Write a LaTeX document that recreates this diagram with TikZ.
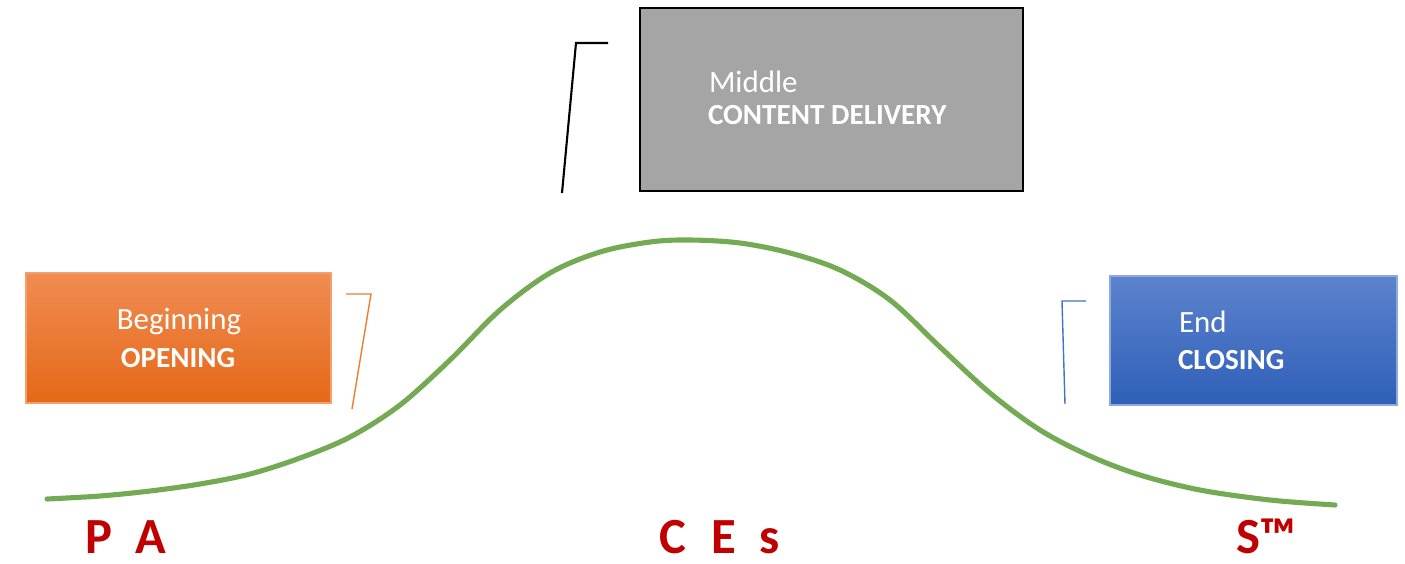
\documentclass[tikz,border=0pt]{standalone}
\usepackage{fontspec}
\setmainfont{Carlito}
\usetikzlibrary{positioning}
\definecolor{curvegreen}{RGB}{116,170,84}
\definecolor{markred}{RGB}{192,0,0}
\definecolor{boxgray}{RGB}{165,165,165}
\definecolor{orangetop}{RGB}{240,140,82}
\definecolor{orangebot}{RGB}{229,104,24}
\definecolor{orangeedge}{RGB}{244,160,110}
\definecolor{orangeline}{RGB}{237,125,49}
\definecolor{bluetop}{RGB}{92,131,205}
\definecolor{bluebot}{RGB}{47,95,184}
\definecolor{blueedge}{RGB}{142,169,219}
\definecolor{blueline}{RGB}{68,114,196}

\begin{document}
\begin{tikzpicture}[x=0.01cm, y=-0.01cm,
  inner sep=0pt, outer sep=0pt,%
  stage box/.style={rectangle,minimum width=#1},
  stage title/.style={text=white,font=\fontsize{8.8}{10}\selectfont},
  stage name/.style={text=white,font=\fontsize{8.3}{10}\selectfont\bfseries},
  bracket/.style={color=#1,line width=0.4pt},
  bell/.style={curvegreen,line width=1.45pt,line cap=round},
  mark label/.style={text=markred,font=\fontsize{14.4}{16}\selectfont\bfseries}]

\useasboundingbox (0,0) rectangle (1405,563);

% the three stage boxes
\node[stage box=3.05cm,minimum height=1.30cm,draw=orangeedge,
  top color=orangetop,bottom color=orangebot] (opening) at (178.5,338) {};
\node[stage box=3.83cm,minimum height=1.83cm,draw=black,line width=0.6pt,fill=boxgray]
  (delivery) at (831.5,99.5) {};
\node[stage box=2.87cm,minimum height=1.29cm,draw=blueedge,
  top color=bluetop,bottom color=bluebot] (closing) at (1253.5,340.5) {};

\node[stage title,anchor=base] (beginning) at (179,329) {Beginning};
\node[stage name,anchor=base] (openname) at (178,367) {OPENING};
\node[stage title,anchor=base west] (middle) at (709,92) {Middle};
\node[stage name,anchor=base west] (delname) at (708,124) {CONTENT DELIVERY};
\node[stage title,anchor=base west] (end) at (1179,332) {End};
\node[stage name,anchor=base west] (closename) at (1178,369) {CLOSING};

% brackets
\coordinate (ob1) at (346,294);
\coordinate (ob2) at (371,294);
\coordinate (ob3) at (352,409);
\draw[bracket=orangeline] (ob1) -- (ob2) -- (ob3);

\coordinate (db1) at (608,43);
\coordinate (db2) at (576,43);
\coordinate (db3) at (562,193);
\draw[bracket=black,line width=0.6pt] (db1) -- (db2) -- (db3);

\coordinate (cb1) at (1086,301);
\coordinate (cb2) at (1062,301);
\coordinate (cb3) at (1065,404);
\draw[bracket=blueline] (cb1) -- (cb2) -- (cb3);

% the bell curve
\draw[bell] plot[smooth,tension=0.55] coordinates {(47,499) (100,496) (150,491) (200,484)
  (250,474) (300,458) (350,437) (400,405) (450,360) (500,310) (550,273) (600,252)
  (650,242) (690,240) (740,243) (790,253) (840,270) (890,300) (940,347) (990,393)
  (1040,430) (1090,456) (1140,475) (1200,490) (1270,500) (1335,505)};

% letters under the curve
\node[mark label,anchor=base west] (pa) at (86,553) {P\hspace{0.45em}A};
\node[mark label,anchor=base west] (ces) at (659,553) {C\hspace{0.5em}E\hspace{0.46em}s};
\node[mark label,anchor=base west] (stm) at (1236,553) {S™};

\end{tikzpicture}
\end{document}
